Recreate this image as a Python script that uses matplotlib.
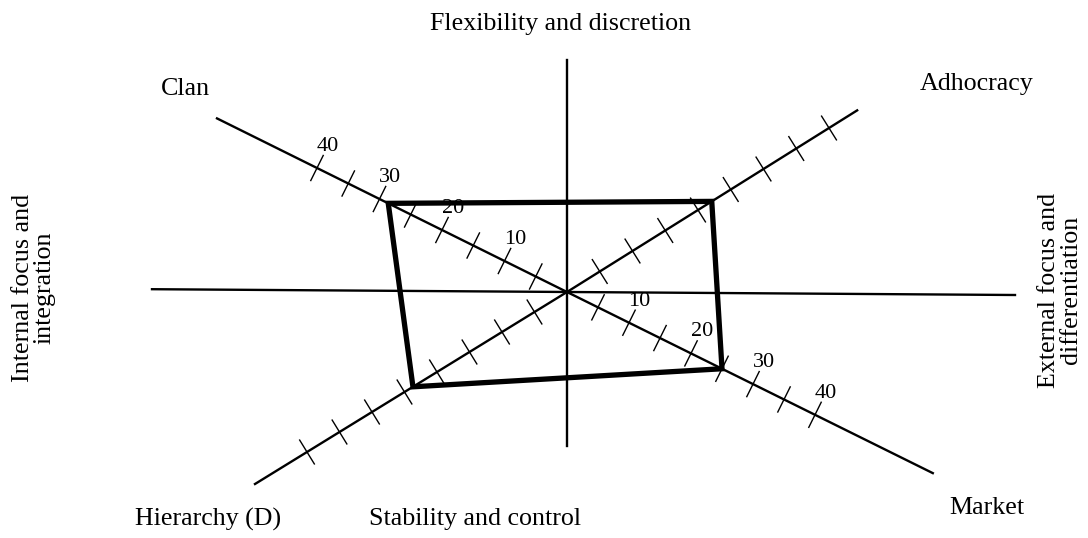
import numpy as np
import matplotlib.pyplot as plt

plt.rcParams['font.family'] = ['Liberation Serif', 'DejaVu Serif']

# culture profile scores (one per quadrant)
quadrants = ['Clan', 'Adhocracy', 'Market', 'Hierarchy (D)']
scores = [28.6, 22.1, 25.0, 23.7]
tick_values = [5, 10, 15, 20, 25, 30, 35, 40]
labelled_ticks = [10, 20, 30, 40]

# diagram geometry (pixels, y down)
cx, cy = 567, 292
unit = {'Clan': (-6.25, -3.1), 'Adhocracy': (6.55, -4.1),
        'Market': (6.2, 3.07), 'Hierarchy (D)': (-6.5, 4.0)}
arm_len = {'Clan': 56, 'Adhocracy': 44.3, 'Market': 59, 'Hierarchy (D)': 48}

fig = plt.figure(figsize=(10.88, 5.38), dpi=100)
ax = fig.add_axes([0, 0, 1, 1])
ax.set_xlim(0, 1088)
ax.set_ylim(538, 0)
ax.axis('off')

# vertical and horizontal axes
ax.plot([cx, cx], [cy - 232, cy + 154], color='black', lw=1.7)
ax.plot([cx - 415, cx + 448], [cy - 2.8, cy + 3], color='black', lw=1.7)

# diagonal arms with tick marks
for q in quadrants:
    ux, uy = unit[q]
    L = arm_len[q]
    ax.plot([cx, cx + ux * L], [cy, cy + uy * L], color='black', lw=1.7)
    n = np.hypot(ux, uy)
    px, py = -uy / n, ux / n
    for v in tick_values:
        tx, ty = cx + ux * v, cy + uy * v
        ax.plot([tx - px * 14, tx + px * 14], [ty - py * 14, ty + py * 14],
                color='black', lw=1.0)
    if q in ('Clan', 'Market'):
        ox, oy = 0.444 * 24, -0.896 * 24
        for v in labelled_ticks:
            ax.text(cx + ux * v + ox, cy + uy * v + oy, str(v), fontsize=16,
                    ha='center', va='center')

# profile polygon
xs = [cx + unit[q][0] * s for q, s in zip(quadrants, scores)]
ys = [cy + unit[q][1] * s for q, s in zip(quadrants, scores)]
ax.fill(xs, ys, fill=False, edgecolor='black', lw=3.8, joinstyle='miter')

fs = 18.7
ax.text(561, 24, 'Flexibility and discretion', fontsize=fs, ha='center', va='center')
ax.text(475, 519, 'Stability and control', fontsize=fs, ha='center', va='center')
ax.text(185, 89, 'Clan', fontsize=fs, ha='center', va='center')
ax.text(977, 84, 'Adhocracy', fontsize=fs, ha='center', va='center')
ax.text(208, 519, 'Hierarchy (D)', fontsize=fs, ha='center', va='center')
ax.text(987, 508, 'Market', fontsize=fs, ha='center', va='center')
ax.text(34, 288, 'Internal focus and\nintegration', fontsize=fs, rotation=90,
        ha='center', va='center', linespacing=0.95)
ax.text(1060, 290, 'External focus and\ndifferentiation', fontsize=fs, rotation=90,
        ha='center', va='center', linespacing=0.95)

plt.savefig('out.png', dpi=100)
